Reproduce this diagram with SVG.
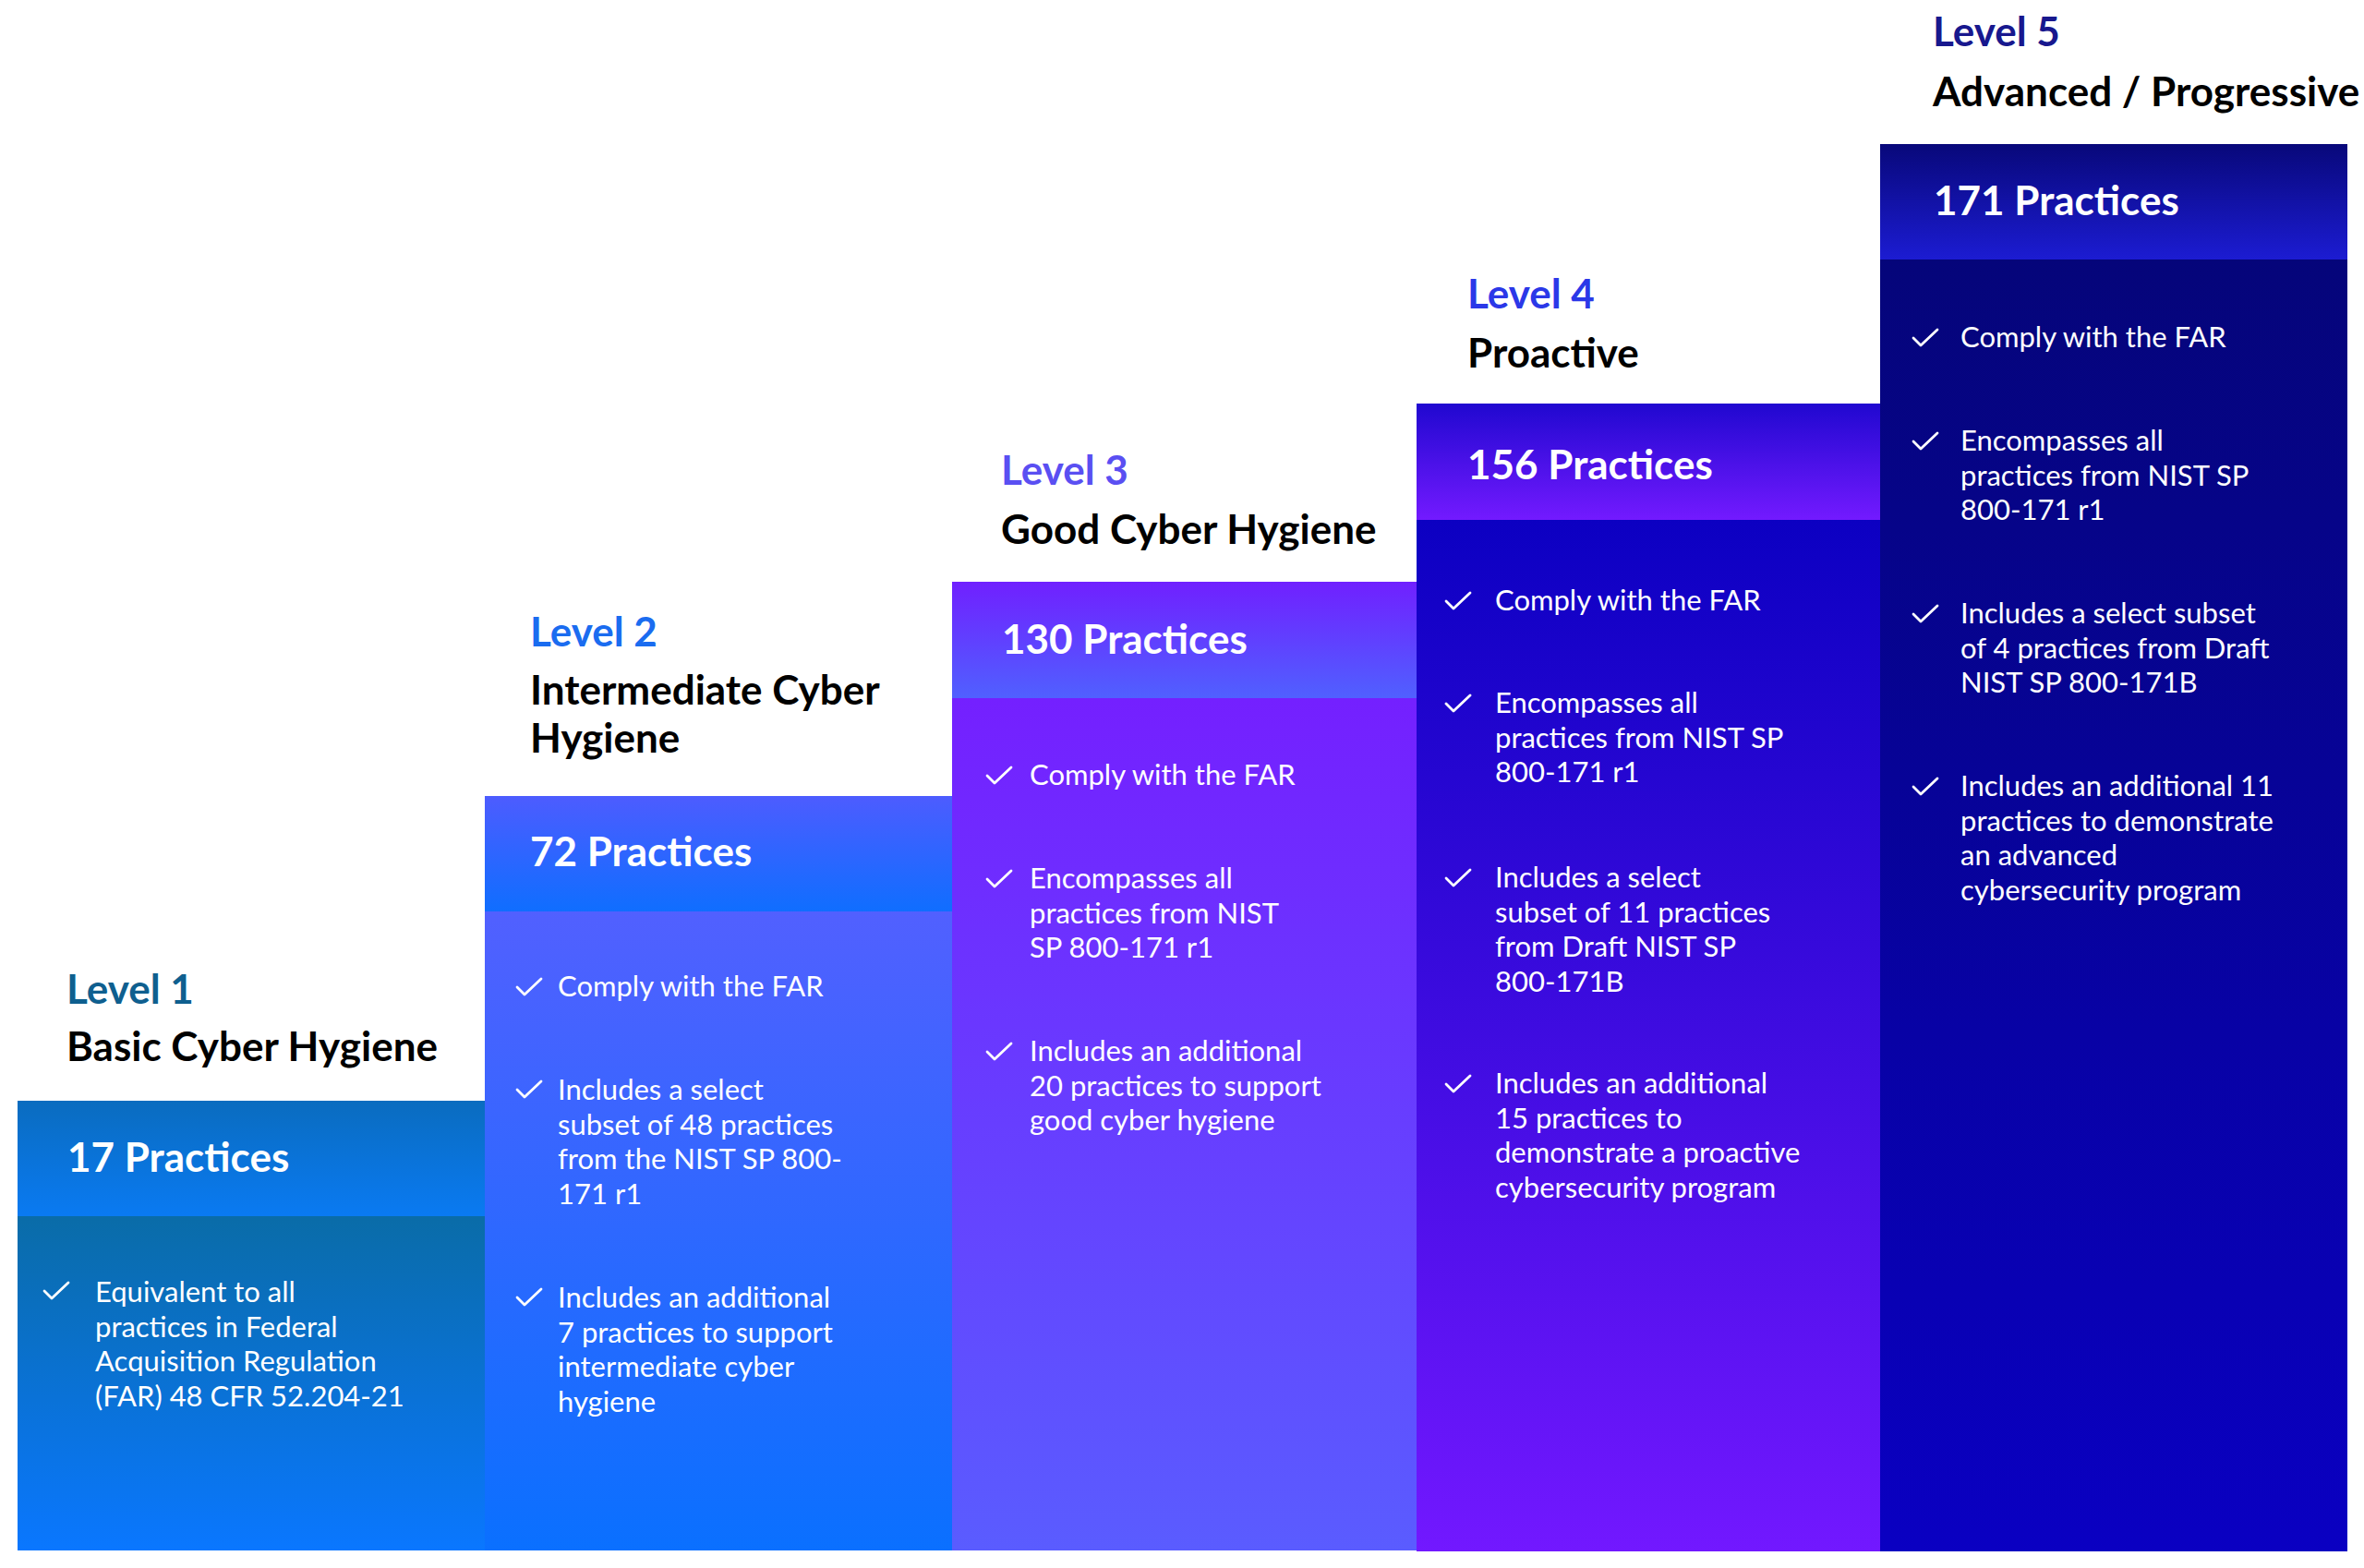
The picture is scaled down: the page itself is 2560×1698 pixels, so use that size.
<svg xmlns="http://www.w3.org/2000/svg" width="2560" height="1698" viewBox="0 0 2560 1698">
<style>
.lvl{font-family:Lato,"Liberation Sans",sans-serif;font-weight:700;font-size:44px}
.ttl{font-family:Lato,"Liberation Sans",sans-serif;font-weight:700;font-size:44px;fill:#000}
.cnt{font-family:Lato,"Liberation Sans",sans-serif;font-weight:700;font-size:44px;fill:#fff}
.bul{font-family:Lato,"Liberation Sans",sans-serif;font-size:31px;fill:#fff}
.chk{fill:none;stroke:#fff;stroke-width:2.8;stroke-linecap:round;stroke-linejoin:round}
</style>
<defs>
<linearGradient id="h1" x1="0" y1="0" x2="0" y2="1"><stop offset="0" stop-color="#0a6cbf"/><stop offset="1" stop-color="#0a7af2"/></linearGradient>
<linearGradient id="b1" x1="0" y1="0" x2="0" y2="1"><stop offset="0" stop-color="#0a6ca8"/><stop offset="1" stop-color="#0a77ff"/></linearGradient>
<linearGradient id="h2" x1="0" y1="0" x2="0" y2="1"><stop offset="0" stop-color="#4d5cff"/><stop offset="1" stop-color="#0f6eff"/></linearGradient>
<linearGradient id="b2" x1="0" y1="0" x2="0" y2="1"><stop offset="0" stop-color="#5160ff"/><stop offset="1" stop-color="#0a70ff"/></linearGradient>
<linearGradient id="h3" x1="0" y1="0" x2="0" y2="1"><stop offset="0" stop-color="#7020ff"/><stop offset="1" stop-color="#5060ff"/></linearGradient>
<linearGradient id="b3" x1="0" y1="0" x2="0" y2="1"><stop offset="0" stop-color="#7420ff"/><stop offset="1" stop-color="#5a5cff"/></linearGradient>
<linearGradient id="h4" x1="0" y1="0" x2="0" y2="1"><stop offset="0" stop-color="#2008d0"/><stop offset="1" stop-color="#731aff"/></linearGradient>
<linearGradient id="b4" x1="0" y1="0" x2="0" y2="1"><stop offset="0" stop-color="#0c00c2"/><stop offset="1" stop-color="#7218ff"/></linearGradient>
<linearGradient id="h5" x1="0" y1="0" x2="0" y2="1"><stop offset="0" stop-color="#08087a"/><stop offset="1" stop-color="#1c1cd2"/></linearGradient>
<linearGradient id="b5" x1="0" y1="0" x2="0" y2="1"><stop offset="0" stop-color="#05057a"/><stop offset="1" stop-color="#0a00c2"/></linearGradient>
<path id="ck" d="M0 10 L8 18 L26 1"/>
</defs>
<rect width="2560" height="1698" fill="#fff"/>

<g id="level1">
<rect x="19" y="1317" width="506" height="362" fill="url(#b1)"/>
<rect x="19" y="1192" width="506" height="125" fill="url(#h1)"/>
<text class="lvl" x="72" y="1087" fill="#0f5f8f">Level 1</text>
<text class="ttl" x="72" y="1149">Basic Cyber Hygiene</text>
<text class="cnt" x="73" y="1269">17 Practices</text>
<use href="#ck" class="chk" x="48" y="1388"/>
<text class="bul" x="103"><tspan x="103" y="1410">Equivalent to all</tspan><tspan x="103" y="1447.5">practices in Federal</tspan><tspan x="103" y="1485">Acquisition Regulation</tspan><tspan x="103" y="1522.5">(FAR) 48 CFR 52.204-21</tspan></text>
</g>

<g id="level2">
<rect x="525" y="987" width="506" height="692" fill="url(#b2)"/>
<rect x="525" y="862" width="506" height="125" fill="url(#h2)"/>
<text class="lvl" x="574" y="700" fill="#1a6cf0">Level 2</text>
<text class="ttl"><tspan x="574" y="763">Intermediate Cyber</tspan><tspan x="574" y="815">Hygiene</tspan></text>
<text class="cnt" x="574" y="938">72 Practices</text>
<use href="#ck" class="chk" x="560" y="1059"/>
<text class="bul"><tspan x="604" y="1079">Comply with the FAR</tspan></text>
<use href="#ck" class="chk" x="560" y="1170"/>
<text class="bul"><tspan x="604" y="1191">Includes a select</tspan><tspan x="604" y="1228.5">subset of 48 practices</tspan><tspan x="604" y="1266">from the NIST SP 800-</tspan><tspan x="604" y="1303.5">171 r1</tspan></text>
<use href="#ck" class="chk" x="560" y="1395"/>
<text class="bul"><tspan x="604" y="1416">Includes an additional</tspan><tspan x="604" y="1453.5">7 practices to support</tspan><tspan x="604" y="1491">intermediate cyber</tspan><tspan x="604" y="1528.5">hygiene</tspan></text>
</g>

<g id="level3">
<rect x="1031" y="756" width="503" height="923" fill="url(#b3)"/>
<rect x="1031" y="630" width="503" height="126" fill="url(#h3)"/>
<text class="lvl" x="1084" y="525" fill="#5a4ff2">Level 3</text>
<text class="ttl" x="1084" y="589">Good Cyber Hygiene</text>
<text class="cnt" x="1085" y="708">130 Practices</text>
<use href="#ck" class="chk" x="1069" y="830"/>
<text class="bul"><tspan x="1115" y="850">Comply with the FAR</tspan></text>
<use href="#ck" class="chk" x="1069" y="942"/>
<text class="bul"><tspan x="1115" y="962">Encompasses all</tspan><tspan x="1115" y="999.5">practices from NIST</tspan><tspan x="1115" y="1037">SP 800-171 r1</tspan></text>
<use href="#ck" class="chk" x="1069" y="1129"/>
<text class="bul"><tspan x="1115" y="1149">Includes an additional</tspan><tspan x="1115" y="1186.5">20 practices to support</tspan><tspan x="1115" y="1224">good cyber hygiene</tspan></text>
</g>

<g id="level4">
<rect x="1534" y="563" width="502" height="1117" fill="url(#b4)"/>
<rect x="1534" y="437" width="502" height="126" fill="url(#h4)"/>
<text class="lvl" x="1589" y="334" fill="#2b38e8">Level 4</text>
<text class="ttl" x="1589" y="398">Proactive</text>
<text class="cnt" x="1589" y="519">156 Practices</text>
<use href="#ck" class="chk" x="1566" y="641"/>
<text class="bul"><tspan x="1619" y="661">Comply with the FAR</tspan></text>
<use href="#ck" class="chk" x="1566" y="752"/>
<text class="bul"><tspan x="1619" y="772">Encompasses all</tspan><tspan x="1619" y="809.5">practices from NIST SP</tspan><tspan x="1619" y="847">800-171 r1</tspan></text>
<use href="#ck" class="chk" x="1566" y="941"/>
<text class="bul"><tspan x="1619" y="961">Includes a select</tspan><tspan x="1619" y="998.5">subset of 11 practices</tspan><tspan x="1619" y="1036">from Draft NIST SP</tspan><tspan x="1619" y="1073.5">800-171B</tspan></text>
<use href="#ck" class="chk" x="1566" y="1164"/>
<text class="bul"><tspan x="1619" y="1184">Includes an additional</tspan><tspan x="1619" y="1221.5">15 practices to</tspan><tspan x="1619" y="1259">demonstrate a proactive</tspan><tspan x="1619" y="1296.5">cybersecurity program</tspan></text>
</g>

<g id="level5">
<rect x="2036" y="281" width="506" height="1399" fill="url(#b5)"/>
<rect x="2036" y="156" width="506" height="125" fill="url(#h5)"/>
<text class="lvl" x="2093" y="50" fill="#18188e">Level 5</text>
<text class="ttl" x="2093" y="115">Advanced / Progressive</text>
<text class="cnt" x="2094" y="233">171 Practices</text>
<use href="#ck" class="chk" x="2072" y="356"/>
<text class="bul"><tspan x="2123" y="376">Comply with the FAR</tspan></text>
<use href="#ck" class="chk" x="2072" y="468"/>
<text class="bul"><tspan x="2123" y="488">Encompasses all</tspan><tspan x="2123" y="525.5">practices from NIST SP</tspan><tspan x="2123" y="563">800-171 r1</tspan></text>
<use href="#ck" class="chk" x="2072" y="655"/>
<text class="bul"><tspan x="2123" y="675">Includes a select subset</tspan><tspan x="2123" y="712.5">of 4 practices from Draft</tspan><tspan x="2123" y="750">NIST SP 800-171B</tspan></text>
<use href="#ck" class="chk" x="2072" y="842"/>
<text class="bul"><tspan x="2123" y="862">Includes an additional 11</tspan><tspan x="2123" y="899.5">practices to demonstrate</tspan><tspan x="2123" y="937">an advanced</tspan><tspan x="2123" y="974.5">cybersecurity program</tspan></text>
</g>

<g id="connectors"></g>
</svg>
